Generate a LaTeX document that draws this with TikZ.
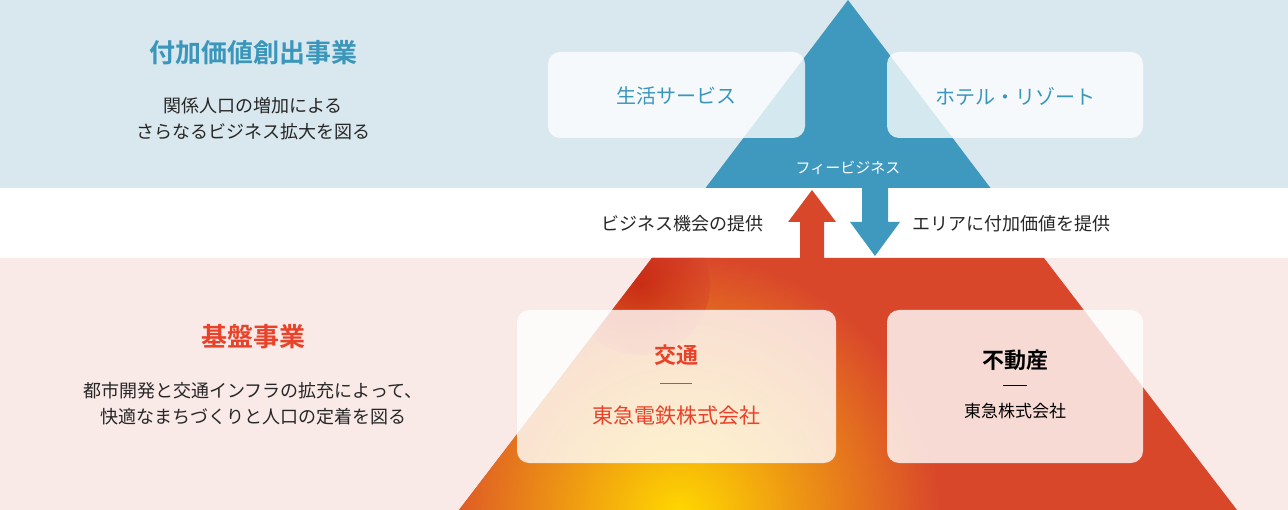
\documentclass[tikz,border=0pt]{standalone}
\usepackage{fontspec}
\setmainfont{Noto Sans CJK JP}
\newfontfamily\jpb{Noto Sans CJK JP}[BoldFont={Noto Sans CJK JP Bold}]
\usetikzlibrary{shadings}
\definecolor{bandblue}{HTML}{D9E8EE}
\definecolor{bandpink}{HTML}{F9E9E7}
\definecolor{tblue}{HTML}{3F98BD}
\definecolor{hblue}{HTML}{3A96BB}
\definecolor{tred}{HTML}{D9472B}
\definecolor{hred}{HTML}{E8432A}
\definecolor{tyel}{HTML}{FFD800}
\tikzset{
  wbox/.style={fill=white,fill opacity=#1,rounded corners=12pt,draw=none},
  lbl/.style={font=\fontsize{18}{26}\selectfont,text=black!85,align=center},
}
\begin{document}
\begin{tikzpicture}[x=1pt,y=-1pt]
\useasboundingbox (0,0) rectangle (1288,510);
\fill[bandblue] (0,0) rectangle (1288,188);
\fill[bandpink] (0,258) rectangle (1288,510);
% blue top of triangle
\fill[tblue] (848,0) -- (990.5,188) -- (705.5,188) -- cycle;
% red bottom of triangle
\begin{scope}
\clip (652,258) -- (1044,258) -- (1237,510) -- (459,510) -- cycle;
\fill[tred] (450,250) rectangle (1240,510);
\shade[inner color=tyel,outer color=tred] (680,515) circle (260);
\shade[inner color=red!70!black!90!tred,outer color=tred,opacity=0.5] (640,285) circle (70);
\end{scope}
% arrows
\fill[tred] (800,258) -- (800,222) -- (788,222) -- (812,190) -- (836,222) -- (824,222) -- (824,258) -- cycle;
\fill[tblue] (862,188) -- (862,222) -- (850,222) -- (875,256) -- (900,222) -- (888,222) -- (888,188) -- cycle;
% boxes
\fill[wbox=0.78] (548,52) rectangle (805,138);
\fill[wbox=0.78] (887,52) rectangle (1143,138);
\fill[wbox=0.8] (517,310) rectangle (836,463);
\fill[wbox=0.8] (887,310) rectangle (1143,463);
\node[text=hblue,font=\fontsize{20}{24}\selectfont] (s1) at (676,96) {生活サービス};
\node[text=hblue,font=\fontsize{20}{24}\selectfont] (s2) at (1015,96) {ホテル・リゾート};
\node[text=white,font=\fontsize{15}{18}\selectfont] (fee) at (848,168) {フィービジネス};
\node[lbl,anchor=east] (l1) at (767,224) {ビジネス機会の提供};
\node[lbl,anchor=west] (l2) at (909,224) {エリアに付加価値を提供};
% bottom box texts
\node[text=hred,font=\jpb\bfseries\fontsize{22}{26}\selectfont] (k1) at (676,355) {交通};
\draw[hred,line width=1pt] (660,384) -- (692,384);
\node[text=hred,font=\fontsize{21}{26}\selectfont] (k2) at (676,416) {東急電鉄株式会社};
\node[text=black,font=\jpb\bfseries\fontsize{22}{26}\selectfont] (f1) at (1015,360) {不動産};
\draw[black,line width=1pt] (1003,386) -- (1027,386);
\node[text=black,font=\fontsize{17}{22}\selectfont] (f2) at (1015,411) {東急株式会社};
% left texts
\node[text=hblue,font=\jpb\bfseries\fontsize{26}{30}\selectfont] (h1) at (253,53) {付加価値創出事業};
\node[lbl] (t1) at (253,119) {関係人口の増加による\\さらなるビジネス拡大を図る};
\node[text=hred,font=\jpb\bfseries\fontsize{26}{30}\selectfont] (h2) at (253,337) {基盤事業};
\node[lbl] (t2) at (253,404) {都市開発と交通インフラの拡充によって、\\快適なまちづくりと人口の定着を図る};
\end{tikzpicture}
\end{document}
